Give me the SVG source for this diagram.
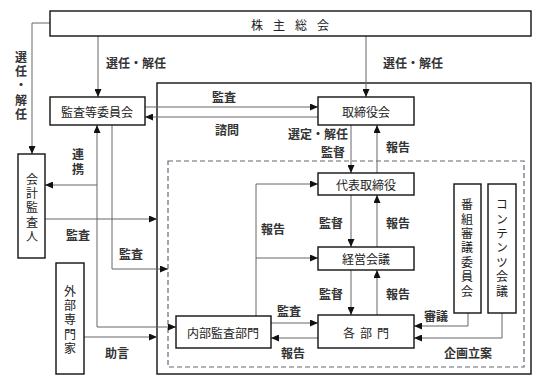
<svg xmlns="http://www.w3.org/2000/svg" width="545" height="390" viewBox="0 0 545 390">
<defs>
<marker id="ah" markerWidth="8" markerHeight="7" refX="8" refY="3.5" orient="auto" markerUnits="userSpaceOnUse">
<path d="M0,0 L8,3.5 L0,7 z" fill="#111"/>
</marker>
<style>
.box{fill:#fff;stroke:#111;stroke-width:1.4}
.frame{fill:none;stroke:#111;stroke-width:1.4}
.dash{fill:none;stroke:#667;stroke-width:1.2;stroke-dasharray:5,3}
.ln{fill:none;stroke:#666;stroke-width:1}
.ar{marker-end:url(#ah)}
text{font-family:"Noto Sans CJK JP","Noto Sans",sans-serif;font-size:12px;fill:#222;text-anchor:middle;dominant-baseline:central}
.lb{font-weight:bold;fill:#333}
.v{writing-mode:vertical-rl;letter-spacing:2.4px}
</style>
</defs>
<rect width="545" height="390" fill="#fff"/>
<rect class="frame" x="157" y="83" width="374" height="291"/>
<rect class="dash" x="168" y="161" width="356" height="206"/>
<g id="connectors">
<path class="ln ar" d="M50,23 H32 V154"/>
<path class="ln ar" d="M98,36 V97"/>
<path class="ln ar" d="M366,36 V97"/>
<path class="ln ar" d="M145,107 H318"/>
<path class="ln ar" d="M318,117 H145"/>
<path class="ln ar" d="M97,327 V125"/>
<path class="ln ar" d="M97,327 H176"/>
<path class="ln ar" d="M97,185 H45"/>
<path class="ln ar" d="M112,125 V269 H168"/>
<path class="ln ar" d="M45,219 H157"/>
<path class="ln ar" d="M84,337 H157"/>
<path class="ln ar" d="M256,316 V184 H318"/>
<path class="ln ar" d="M256,258 H318"/>
<path class="ln ar" d="M351,125 V173"/>
<path class="ln ar" d="M377,173 V125"/>
<path class="ln ar" d="M351,195 V247"/>
<path class="ln ar" d="M377,247 V195"/>
<path class="ln ar" d="M351,270 V315"/>
<path class="ln ar" d="M377,315 V270"/>
<path class="ln ar" d="M271,323 H318"/>
<path class="ln ar" d="M318,338 H271"/>
<path class="ln ar" d="M468,313 V326 H414"/>
<path class="ln ar" d="M502,313 V338 H414"/>
<text class="lb" x="136" y="62">選任・解任</text>
<text class="lb" x="413" y="62">選任・解任</text>
<text class="lb v" x="21" y="87">選任・解任</text>
<text class="lb" x="224" y="96">監査</text>
<text class="lb" x="227" y="129">諮問</text>
<text class="lb v" x="78" y="163">連携</text>
<text class="lb" x="78" y="234">監査</text>
<text class="lb" x="131" y="253">監査</text>
<text class="lb" x="117" y="352">助言</text>
<text class="lb" x="318" y="133">選定・解任</text>
<text class="lb" x="333" y="151">監督</text>
<text class="lb" x="398" y="146">報告</text>
<text class="lb" x="331" y="222">監督</text>
<text class="lb" x="398" y="222">報告</text>
<text class="lb" x="273" y="228">報告</text>
<text class="lb" x="331" y="293">監督</text>
<text class="lb" x="398" y="293">報告</text>
<text class="lb" x="289" y="310">監査</text>
<text class="lb" x="293" y="352">報告</text>
<text class="lb" x="436" y="315">審議</text>
<text class="lb" x="468" y="352">企画立案</text>
</g>
<g id="kabunushi">
<rect class="box" x="50" y="11" width="481" height="25"/>
<text x="290" y="24" style="letter-spacing:10px" dx="5">株主総会</text>
</g>
<g id="kansa-iinkai">
<rect class="box" x="50" y="97" width="95" height="28"/>
<text x="97" y="111">監査等委員会</text>
</g>
<g id="torishimariyakukai">
<rect class="box" x="318" y="97" width="96" height="28"/>
<text x="366" y="111">取締役会</text>
</g>
<g id="kaikei-kansanin">
<rect class="box" x="18" y="154" width="27" height="104"/>
<text class="v" x="32" y="209">会計監査人</text>
</g>
<g id="gaibu-senmonka">
<rect class="box" x="56" y="263" width="28" height="111"/>
<text class="v" x="70" y="321">外部専門家</text>
</g>
<g id="daihyo">
<rect class="box" x="318" y="173" width="96" height="22"/>
<text x="366" y="184">代表取締役</text>
</g>
<g id="keiei-kaigi">
<rect class="box" x="318" y="247" width="96" height="23"/>
<text x="366" y="258">経営会議</text>
</g>
<g id="kakubumon">
<rect class="box" x="318" y="315" width="96" height="33"/>
<text x="366" y="332" style="letter-spacing:5px" dx="2.5">各部門</text>
</g>
<g id="naibu-kansa">
<rect class="box" x="176" y="316" width="95" height="32"/>
<text x="223" y="332">内部監査部門</text>
</g>
<g id="bangumi">
<rect class="box" x="454" y="184" width="27" height="129"/>
<text class="v" x="467" y="249">番組審議委員会</text>
</g>
<g id="contents">
<rect class="box" x="488" y="184" width="28" height="129"/>
<text class="v" x="502" y="249">コンテンツ会議</text>
</g>
</svg>
